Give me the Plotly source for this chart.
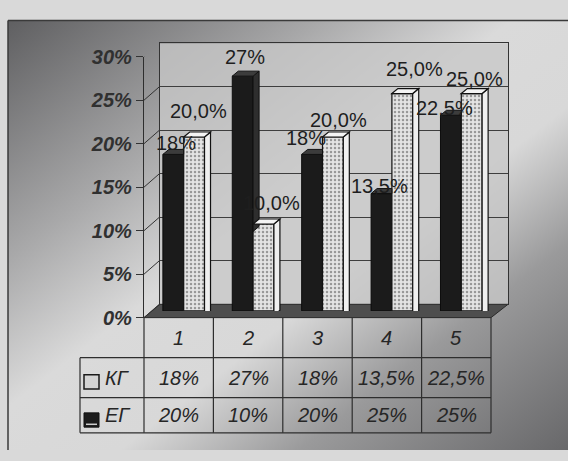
import base64
import plotly.graph_objects as go

# ---------------- data ----------------
categories = ["1", "2", "3", "4", "5"]
series_names = ["КГ", "ЕГ"]
kg_values = [18, 27, 18, 13.5, 22.5]   # dark bars (values shown in the КГ row)
eg_values = [20, 10, 20, 25, 25]       # dotted light bars (values shown in the ЕГ row)
y_ticks = [0, 5, 10, 15, 20, 25, 30]
y_tick_labels = [f"{t}%" for t in y_ticks]

# ---------------- layout constants (pixels) ----------------
W, H = 568, 461
FONT = "Liberation Sans, Arial, sans-serif"


def px(x):
    return x / W


def py(y):
    return 1 - y / H


BACK = dict(x0=160, x1=508, y0=34, y1=308)    # back wall
MID = dict(x0=149, x1=496, y0=41, y1=315)     # bars at mid depth
FRONT = dict(x0=144, x1=491, y0=48, y1=322)   # front axis
TABLE_LEFT = 80
ROW_Y = [322, 364, 406, 443]

n = len(categories)
xs = list(range(1, n + 1))
unit_px = (MID["x1"] - MID["x0"]) / n
ppu = (MID["y1"] - MID["y0"]) / 30.0
bar_frac = 0.3
hw = bar_frac / 2 * unit_px
DX, DY = 6, 5   # 3D depth offset of bar tops/sides

kg_label_shift = [(3, 11), (2, 19), (-6, 16), (-2, 8), (-6, 7)]
eg_label_shift = [(4, 26), (8, 21), (6, 17), (12, 25), (3, 15)]


def fmt_plain(v):
    return f"{v:g}".replace(".", ",") + "%"


def fmt_one(v):
    return f"{v:.1f}".replace(".", ",") + "%"


# ---------------- background gradient ----------------
svg = (
    "<svg xmlns='http://www.w3.org/2000/svg' width='560' height='451' preserveAspectRatio='none'>"
    "<defs><linearGradient id='g' x1='0' y1='0' x2='1' y2='1'>"
    "<stop offset='0' stop-color='#5f5f61'/>"
    "<stop offset='0.28' stop-color='#a9a9aa'/>"
    "<stop offset='0.45' stop-color='#dadada'/>"
    "<stop offset='0.6' stop-color='#d8d8d8'/>"
    "<stop offset='0.76' stop-color='#9a9a9b'/>"
    "<stop offset='1' stop-color='#68686a'/>"
    "</linearGradient></defs>"
    "<rect width='560' height='451' fill='url(#g)'/></svg>"
)
bg_uri = "data:image/svg+xml;base64," + base64.b64encode(svg.encode()).decode()

fig = go.Figure()

# invisible anchors so the back-wall and front-axis subplots exist
fig.add_trace(go.Scatter(x=[1], y=[0], xaxis="x", yaxis="y", mode="markers",
                         marker=dict(opacity=0), hoverinfo="skip", showlegend=False))
fig.add_trace(go.Scatter(x=[1], y=[0], xaxis="x3", yaxis="y3", mode="markers",
                         marker=dict(opacity=0), hoverinfo="skip", showlegend=False))

fig.add_trace(go.Bar(
    x=xs, y=kg_values, name=series_names[0], xaxis="x2", yaxis="y2",
    marker=dict(color="#1b1b1b", line=dict(color="#0c0c0c", width=1)),
    showlegend=False, hoverinfo="skip"))
fig.add_trace(go.Bar(
    x=xs, y=eg_values, name=series_names[1], xaxis="x2", yaxis="y2",
    marker=dict(color="#dcdcdc",
                pattern=dict(shape=".", fgcolor="#4a4a4a", bgcolor="#e4e4e4",
                             size=4, solidity=0.3),
                line=dict(color="#111111", width=1.2)),
    showlegend=False, hoverinfo="skip"))

shapes = []
# back wall fill
shapes.append(dict(type="rect", xref="paper", yref="paper", layer="below",
                   x0=px(BACK["x0"]), x1=px(BACK["x1"]), y0=py(BACK["y1"]), y1=py(BACK["y0"]),
                   fillcolor="rgba(200,200,200,0.78)", line=dict(width=0)))
# floor
shapes.append(dict(type="path", xref="paper", yref="paper", layer="below",
                   path=(f"M{px(FRONT['x0'])},{py(FRONT['y1'])} L{px(BACK['x0'])},{py(BACK['y1'])} "
                         f"L{px(BACK['x1'])},{py(BACK['y1'])} L{px(FRONT['x1'])},{py(FRONT['y1'])} Z"),
                   fillcolor="#4e4e4e", line=dict(color="#2a2a2a", width=1)))
# diagonal tick connectors from the front axis to the back wall
for t in y_ticks:
    shapes.append(dict(type="line", xref="paper", yref="y3", ysizemode="pixel", yanchor=t,
                       layer="below", x0=px(FRONT["x0"]), x1=px(BACK["x0"]), y0=0,
                       y1=FRONT["y1"] - BACK["y1"], line=dict(color="#333333", width=1)))

# 3D faces of the bars
for i, (vk, ve) in enumerate(zip(kg_values, eg_values)):
    xk = xs[i] - bar_frac / 2
    xe = xs[i] + bar_frac / 2
    if vk > ve:
        top = f"M{-hw},0 L{-hw + DX},{DY} L{hw + DX},{DY} L{hw},0 Z"
        drop = (vk - ve) * ppu
        side = f"M{hw},0 L{hw + DX},{DY} L{hw + DX},{DY - drop} L{hw},{-drop} Z"
        shapes.append(dict(type="path", xref="x2", yref="y2", xsizemode="pixel", ysizemode="pixel",
                           xanchor=xk, yanchor=vk, path=side, fillcolor="#2e2e2e",
                           line=dict(color="#111111", width=1)))
    else:
        top = f"M{-hw},0 L{-hw + DX},{DY} L{hw},{DY} L{hw},0 Z"
    shapes.append(dict(type="path", xref="x2", yref="y2", xsizemode="pixel", ysizemode="pixel",
                       xanchor=xk, yanchor=vk, path=top, fillcolor="#3c3c3c",
                       line=dict(color="#111111", width=1)))
    base = ve * ppu
    shapes.append(dict(type="path", xref="x2", yref="y2", xsizemode="pixel", ysizemode="pixel",
                       xanchor=xe, yanchor=ve,
                       path=f"M{hw},0 L{hw + DX},{DY} L{hw + DX},{DY - base} L{hw},{-base} Z",
                       fillcolor="#efefef", line=dict(color="#111111", width=1.2)))
    shapes.append(dict(type="path", xref="x2", yref="y2", xsizemode="pixel", ysizemode="pixel",
                       xanchor=xe, yanchor=ve,
                       path=f"M{-hw},0 L{-hw + DX},{DY} L{hw + DX},{DY} L{hw},0 Z",
                       fillcolor="#f4f4f4", line=dict(color="#111111", width=1.2)))

# data table grid
LC = "#2e2e2e"
col_edges = [FRONT["x0"] + (FRONT["x1"] - FRONT["x0"]) * k / n for k in range(n + 1)]
for xe_ in col_edges:
    shapes.append(dict(type="line", xref="paper", yref="paper", x0=px(xe_), x1=px(xe_),
                       y0=py(ROW_Y[0]), y1=py(ROW_Y[-1]), line=dict(color=LC, width=1.2)))
for yy in ROW_Y[1:]:
    shapes.append(dict(type="line", xref="paper", yref="paper", x0=px(TABLE_LEFT), x1=px(FRONT["x1"]),
                       y0=py(yy), y1=py(yy), line=dict(color=LC, width=1.2)))
shapes.append(dict(type="line", xref="paper", yref="paper", x0=px(TABLE_LEFT), x1=px(TABLE_LEFT),
                   y0=py(ROW_Y[1]), y1=py(ROW_Y[-1]), line=dict(color=LC, width=1.2)))
# legend keys inside the table
shapes.append(dict(type="rect", xref="paper", yref="paper", x0=px(84), x1=px(99),
                   y0=py(397), y1=py(382), fillcolor="#d4d4d4", line=dict(color="#1a1a1a", width=1.5)))
shapes.append(dict(type="rect", xref="paper", yref="paper", x0=px(84), x1=px(99),
                   y0=py(437), y1=py(422), fillcolor="#1c1c1c", line=dict(color="#111111", width=1)))
shapes.append(dict(type="line", xref="paper", yref="paper", x0=px(86), x1=px(97),
                   y0=py(434), y1=py(434), line=dict(color="#cfcfcf", width=1.5)))
# outer chart border
shapes.append(dict(type="line", xref="paper", yref="paper", x0=px(8), x1=px(8), y0=0, y1=py(10),
                   line=dict(color="#3a3a3a", width=1.5)))
shapes.append(dict(type="line", xref="paper", yref="paper", x0=px(8), x1=1, y0=py(10), y1=py(10),
                   line=dict(color="#3a3a3a", width=1.5)))

annotations = []
lab_font = dict(family=FONT, size=20, color="#1e1e1e")
for i in range(n):
    dx, dy = kg_label_shift[i]
    annotations.append(dict(xref="x2", yref="y2", x=xs[i] - bar_frac / 2, y=kg_values[i],
                            text=fmt_plain(kg_values[i]), showarrow=False, xanchor="center",
                            yanchor="middle", xshift=dx, yshift=dy, font=lab_font))
    dx, dy = eg_label_shift[i]
    annotations.append(dict(xref="x2", yref="y2", x=xs[i] + bar_frac / 2, y=eg_values[i],
                            text=fmt_one(eg_values[i]), showarrow=False, xanchor="center",
                            yanchor="middle", xshift=dx, yshift=dy, font=lab_font))

tab_font = dict(family=FONT, size=20, color="#262626", style="italic")
row_centers = [(ROW_Y[k] + ROW_Y[k + 1]) / 2 for k in range(3)]
for i in range(n):
    annotations.append(dict(xref="x3", yref="paper", x=xs[i], y=py(row_centers[0]),
                            text=categories[i], showarrow=False, font=tab_font, yanchor="middle"))
    annotations.append(dict(xref="x3", yref="paper", x=xs[i], y=py(row_centers[1]),
                            text=fmt_plain(kg_values[i]), showarrow=False, font=tab_font, yanchor="middle"))
    annotations.append(dict(xref="x3", yref="paper", x=xs[i], y=py(row_centers[2]),
                            text=fmt_plain(eg_values[i]), showarrow=False, font=tab_font, yanchor="middle"))
for k, name in enumerate(series_names):
    annotations.append(dict(xref="paper", yref="paper", x=px(103), y=py(row_centers[k + 1]),
                            text=name, showarrow=False, font=tab_font, xanchor="left", yanchor="middle"))

fig.update_layout(
    width=W, height=H,
    margin=dict(l=0, r=0, t=0, b=0),
    paper_bgcolor="#d9d9d9",
    plot_bgcolor="rgba(0,0,0,0)",
    barmode="group", bargap=0.4, bargroupgap=0,
    showlegend=False,
    images=[dict(source=bg_uri, xref="paper", yref="paper", x=px(8), y=py(10),
                 sizex=1 - px(8), sizey=py(10), xanchor="left", yanchor="top",
                 sizing="stretch", layer="below")],
    xaxis=dict(domain=[px(BACK["x0"]), px(BACK["x1"])], range=[0.5, n + 0.5], anchor="y",
               showticklabels=False, ticks="", showgrid=False, zeroline=False,
               showline=True, mirror=True, linecolor="#333333", linewidth=1),
    yaxis=dict(domain=[py(BACK["y1"]), py(BACK["y0"])], range=[0, 30], anchor="x",
               tickvals=y_ticks, showticklabels=False, ticks="", showgrid=True,
               gridcolor="#3e3e3e", gridwidth=1, zeroline=False,
               showline=True, mirror=True, linecolor="#333333", linewidth=1),
    xaxis2=dict(domain=[px(MID["x0"]), px(MID["x1"])], range=[0.5, n + 0.5], anchor="y2",
                visible=False),
    yaxis2=dict(domain=[py(MID["y1"]), py(MID["y0"])], range=[0, 30], anchor="x2",
                visible=False),
    xaxis3=dict(domain=[px(FRONT["x0"]), px(FRONT["x1"])], range=[0.5, n + 0.5], anchor="y3",
                showticklabels=False, ticks="", showgrid=False, zeroline=False, showline=False),
    yaxis3=dict(domain=[py(FRONT["y1"]), py(FRONT["y0"])], range=[0, 30], anchor="x3",
                tickvals=y_ticks, ticktext=y_tick_labels, ticks="outside", ticklen=7,
                tickcolor="#333333", showgrid=False, zeroline=False,
                showline=True, linecolor="#2e2e2e", linewidth=1.2,
                tickfont=dict(family=FONT, size=20, color="#303030", weight="bold", style="italic")),
    shapes=shapes,
    annotations=annotations,
)

fig.write_html("out.html")
